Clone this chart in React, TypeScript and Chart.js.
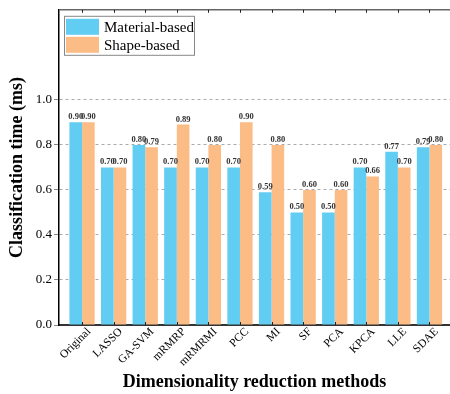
import React, { useEffect, useRef } from 'react';
import { Chart, registerables } from 'chart.js';

Chart.register(...registerables);

const methods = ['Original', 'LASSO', 'GA-SVM', 'mRMRP', 'mRMRMI', 'PCC', 'MI', 'SF', 'PCA', 'KPCA', 'LLE', 'SDAE'];
const materialBased = [0.90, 0.70, 0.80, 0.70, 0.70, 0.70, 0.59, 0.50, 0.50, 0.70, 0.77, 0.79];
const shapeBased = [0.90, 0.70, 0.79, 0.89, 0.80, 0.90, 0.80, 0.60, 0.60, 0.66, 0.70, 0.80];
const yTickValues = [0, 0.2, 0.4, 0.6, 0.8, 1.0];
const seriesNames = ['Material-based', 'Shape-based'];
const seriesColors = ['#62CDF2', '#FBBC85'];

const SERIF = "'Liberation Serif', 'Times New Roman', serif";

const valueLabels = {
  id: 'valueLabels',
  afterDatasetsDraw(chart: any) {
    const ctx = chart.ctx;
    ctx.save();
    ctx.font = `bold 8.5px ${SERIF}`;
    ctx.fillStyle = '#333';
    ctx.textAlign = 'center';
    ctx.textBaseline = 'bottom';
    chart.data.datasets.forEach((ds: any, di: number) => {
      const meta = chart.getDatasetMeta(di);
      meta.data.forEach((el: any, i: number) => {
        const v = ds.data[i].y;
        ctx.fillText(v.toFixed(2), el.x, el.y - 1);
      });
    });
    ctx.restore();
  },
};

const frame = {
  id: 'frame',
  afterDatasetsDraw(chart: any) {
    const { ctx, chartArea } = chart;
    const xs = chart.scales.x;
    ctx.save();
    ctx.strokeStyle = '#666';
    ctx.lineWidth = 1.5;
    ctx.beginPath();
    ctx.moveTo(chartArea.left, chartArea.top);
    ctx.lineTo(chartArea.right, chartArea.top);
    ctx.stroke();
    ctx.strokeStyle = '#222';
    ctx.lineWidth = 1;
    methods.forEach((_, i) => {
      const x = Math.round(xs.getPixelForValue(i)) + 0.5;
      ctx.beginPath();
      ctx.moveTo(x, chartArea.top);
      ctx.lineTo(x, chartArea.top + 3);
      ctx.moveTo(x, chartArea.bottom);
      ctx.lineTo(x, chartArea.bottom - 3);
      ctx.stroke();
    });
    ctx.restore();
  },
};

const legendBox = {
  id: 'legendBox',
  afterDraw(chart: any) {
    const { ctx, chartArea } = chart;
    const x0 = chartArea.left + 5;
    const y0 = chartArea.top + 6;
    const w = 130;
    const h = 39;
    ctx.save();
    ctx.fillStyle = '#fff';
    ctx.fillRect(x0, y0, w, h);
    ctx.strokeStyle = '#888';
    ctx.lineWidth = 1;
    ctx.strokeRect(x0 + 0.5, y0 + 0.5, w, h);
    ctx.font = `15px ${SERIF}`;
    ctx.textBaseline = 'middle';
    ctx.textAlign = 'left';
    chart.data.datasets.forEach((ds: any, i: number) => {
      const sy = y0 + 3 + i * 18;
      ctx.fillStyle = ds.backgroundColor;
      ctx.fillRect(x0 + 2, sy, 33, 16);
      ctx.fillStyle = '#000';
      ctx.fillText(ds.label, x0 + 40, sy + 9);
    });
    ctx.restore();
  },
};

export default function App() {
  const ref = useRef<HTMLCanvasElement | null>(null);

  useEffect(() => {
    if (!ref.current) return;
    const chart = new Chart(ref.current, {
      type: 'bar',
      data: {
        datasets: [materialBased, shapeBased].map((vals, si) => ({
          label: seriesNames[si],
          data: vals.map((v, i) => ({ x: i, y: v })),
          backgroundColor: seriesColors[si],
          borderWidth: 0,
          categoryPercentage: 0.8,
          barPercentage: 1.0,
        })),
      },
      options: {
        animation: false,
        responsive: true,
        maintainAspectRatio: false,
        layout: { padding: { top: 7, right: 0, left: 0, bottom: 0 } },
        plugins: {
          legend: { display: false },
          tooltip: { enabled: false },
        },
        scales: {
          x: {
            type: 'linear',
            offset: false,
            min: -0.73,
            max: 11.65,
            afterBuildTicks: (scale: any) => {
              scale.ticks = methods.map((_, i) => ({ value: i }));
            },
            afterFit: (scale: any) => {
              scale.height = 69;
              scale.paddingLeft = 0;
              scale.paddingRight = 0;
            },
            grid: { display: false, drawTicks: false, offset: false },
            border: { display: true, color: '#333', width: 2 },
            ticks: {
              autoSkip: false,
              minRotation: 45,
              maxRotation: 45,
              padding: 0,
              labelOffset: 7,
              color: '#000',
              font: { family: SERIF, size: 11.5 },
              callback: (v: any) => methods[v] ?? '',
            },
            title: {
              display: true,
              text: 'Dimensionality reduction methods',
              color: '#000',
              font: { family: SERIF, size: 18, weight: 'bold' },
              padding: { top: 0, bottom: 1 },
            },
          },
          y: {
            min: 0,
            max: 1.4,
            afterBuildTicks: (scale: any) => {
              scale.ticks = yTickValues.map((v) => ({ value: v }));
            },
            afterFit: (scale: any) => {
              scale.width = 59;
            },
            grid: {
              color: (c: any) => (c.tick && c.tick.value === 0 ? 'rgba(0,0,0,0)' : '#aaaaaa'),
              lineWidth: 1,
              tickLength: 5,
              tickColor: '#888',
            },
            border: { display: true, color: '#000', width: 1.5, dash: [3, 3] },
            ticks: {
              padding: 2,
              color: '#000',
              font: { family: SERIF, size: 13 },
              callback: (v: any) => Number(v).toFixed(1),
            },
            title: {
              display: true,
              text: 'Classification time (ms)',
              color: '#000',
              font: { family: SERIF, size: 18, weight: 'bold' },
              padding: { top: 7, bottom: 0 },
            },
          },
        },
      } as any,
      plugins: [valueLabels, frame, legendBox],
    });
    return () => chart.destroy();
  }, []);

  return (
    <div style={{ position: 'fixed', left: 0, top: 0, width: 450, height: 394, background: '#fff' }}>
      <canvas ref={ref} />
    </div>
  );
}
